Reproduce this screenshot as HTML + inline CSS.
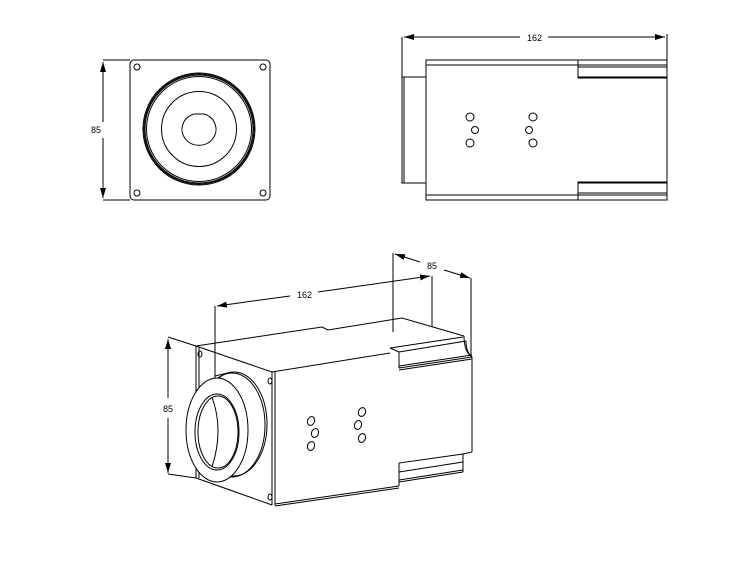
<!DOCTYPE html>
<html><head><meta charset="utf-8"><style>
html,body{margin:0;padding:0;background:#fff;}
svg{display:block;}
text{font-family:"Liberation Sans",sans-serif;font-size:9px;fill:#000;}
</style></head><body>
<svg width="747" height="578" viewBox="0 0 747 578" xmlns="http://www.w3.org/2000/svg">
<defs>
<marker id="ar" viewBox="0 0 10 6" refX="10" refY="3" markerWidth="10" markerHeight="6" orient="auto" markerUnits="userSpaceOnUse"><path d="M0,0 L10,3 L0,6 z" fill="#000"/></marker>
</defs>
<g fill="none" stroke="#000" stroke-width="1">
<!-- FRONT VIEW -->
<rect x="130" y="60" width="140" height="140" rx="4"/>
<circle cx="137" cy="67" r="3"/><circle cx="263" cy="67" r="3"/>
<circle cx="137" cy="193" r="3"/><circle cx="263" cy="193" r="3"/>
<circle cx="199" cy="129" r="56"/><circle cx="199" cy="129" r="55"/><circle cx="199" cy="129" r="54"/><circle cx="199" cy="129" r="52.5"/>
<circle cx="199" cy="129" r="37.5"/>
<path d="M194,114 L204,114 A17,16 0 1 1 194,114 z"/>
<line x1="103" y1="60" x2="130" y2="60"/><line x1="103" y1="200" x2="130" y2="200"/>
<line x1="103" y1="122" x2="103" y2="62" marker-end="url(#ar)"/>
<line x1="103" y1="138" x2="103" y2="198" marker-end="url(#ar)"/>
</g>
<text x="91" y="133">85</text>
<g fill="none" stroke="#000" stroke-width="1">
<!-- SIDE VIEW -->
<line x1="402" y1="37" x2="402" y2="183"/>
<line x1="667" y1="34" x2="667" y2="60"/>
<line x1="520" y1="37" x2="404" y2="37" marker-end="url(#ar)"/>
<line x1="548" y1="37" x2="665" y2="37" marker-end="url(#ar)"/>
<rect x="402" y="77" width="24" height="106"/>
<line x1="404" y1="77" x2="404" y2="183"/>
<rect x="426" y="60" width="241" height="140"/>
<line x1="426" y1="65" x2="578" y2="65"/><line x1="426" y1="195" x2="578" y2="195"/>
<rect x="578" y="60" width="89" height="18"/>
<line x1="578" y1="65" x2="667" y2="65"/><line x1="578" y1="67" x2="667" y2="67"/><line x1="578" y1="77" x2="667" y2="77"/>
<rect x="578" y="182" width="89" height="18"/>
<line x1="578" y1="183" x2="667" y2="183"/><line x1="578" y1="193" x2="667" y2="193"/><line x1="578" y1="195" x2="667" y2="195"/>
<circle cx="470" cy="117" r="4"/><circle cx="475" cy="130" r="3.5"/><circle cx="470" cy="143" r="4"/>
<circle cx="533" cy="117" r="4"/><circle cx="529" cy="130" r="3.5"/><circle cx="533" cy="143" r="4"/>
</g>
<text x="527" y="41">162</text>
<g fill="none" stroke="#000" stroke-width="1">
<!-- ISO VIEW -->
<!-- body top -->
<path d="M196,346 L322,327 L328,330 L402,318 L464,336"/>
<path d="M464,336 Q464,352 472,357"/>
<line x1="196" y1="346" x2="272" y2="372"/>
<line x1="272" y1="372" x2="390" y2="353"/>
<path d="M390,348 L463,337 M390,348 L399,352 L399,368 M399,352 L466,341 M466,341 Q466,352 472,357"/>
<path d="M399,368 L472,357 M399,366 L472,355 M399,370 L472,359"/>
<line x1="472" y1="357" x2="472" y2="452"/>
<path d="M472,452 L463,454 L463,472 M463,454 L399,463 L399,486 M463,462 L399,472 M463,470 L399,480 M463,472 L399,482"/>
<line x1="399" y1="486" x2="275" y2="504"/>
<line x1="275" y1="506" x2="399" y2="488"/>
<!-- plate -->
<line x1="196" y1="346" x2="196" y2="478"/><line x1="199" y1="347" x2="199" y2="478"/>
<line x1="272" y1="372" x2="272" y2="505"/><line x1="275" y1="372" x2="275" y2="505"/>
<line x1="196" y1="478" x2="272" y2="505"/>
<ellipse cx="200" cy="354" rx="2" ry="3"/><ellipse cx="270" cy="381" rx="2" ry="3"/>
<ellipse cx="200" cy="470" rx="2" ry="3"/><ellipse cx="270" cy="497" rx="2" ry="3"/>
<!-- lens -->
<ellipse cx="234" cy="424" rx="33" ry="52" fill="#fff"/>
<ellipse cx="232" cy="425" rx="33" ry="52"/>
<path d="M215,376 L232,372 M215,482 L234,476" />
<ellipse cx="217" cy="430" rx="31" ry="52" fill="#fff"/>
<ellipse cx="217" cy="432" rx="22" ry="38"/>
<ellipse cx="218" cy="432" rx="20" ry="36"/>
<path d="M212,397 Q224,430 212,467"/>
<!-- holes -->
<ellipse cx="311" cy="421" rx="3.5" ry="4.5" transform="rotate(20 311 421)"/>
<ellipse cx="315" cy="433" rx="3.5" ry="4.5" transform="rotate(20 315 433)"/>
<ellipse cx="311" cy="446" rx="3.5" ry="4.5" transform="rotate(20 311 446)"/>
<ellipse cx="362" cy="412" rx="3.5" ry="4.5" transform="rotate(20 362 412)"/>
<ellipse cx="358" cy="425" rx="3.5" ry="4.5" transform="rotate(20 358 425)"/>
<ellipse cx="362" cy="438" rx="3.5" ry="4.5" transform="rotate(20 362 438)"/>
<!-- dims -->
<line x1="168" y1="337" x2="196" y2="346"/><line x1="168" y1="474" x2="196" y2="478"/>
<line x1="168" y1="398" x2="168" y2="339" marker-end="url(#ar)"/>
<line x1="168" y1="418" x2="168" y2="473" marker-end="url(#ar)"/>
<line x1="215" y1="306" x2="215" y2="378"/>
<line x1="432" y1="276" x2="432" y2="327"/>
<line x1="290" y1="296" x2="217" y2="306" marker-end="url(#ar)"/>
<line x1="318" y1="292" x2="430" y2="276" marker-end="url(#ar)"/>
<line x1="393" y1="253" x2="393" y2="332"/>
<line x1="471" y1="278" x2="471" y2="357"/>
<line x1="420" y1="262" x2="395" y2="254" marker-end="url(#ar)"/>
<line x1="444" y1="270" x2="470" y2="278" marker-end="url(#ar)"/>
</g>
<text x="163" y="412">85</text>
<text x="297" y="298">162</text>
<text x="427" y="269">85</text>
</svg>
</body></html>
